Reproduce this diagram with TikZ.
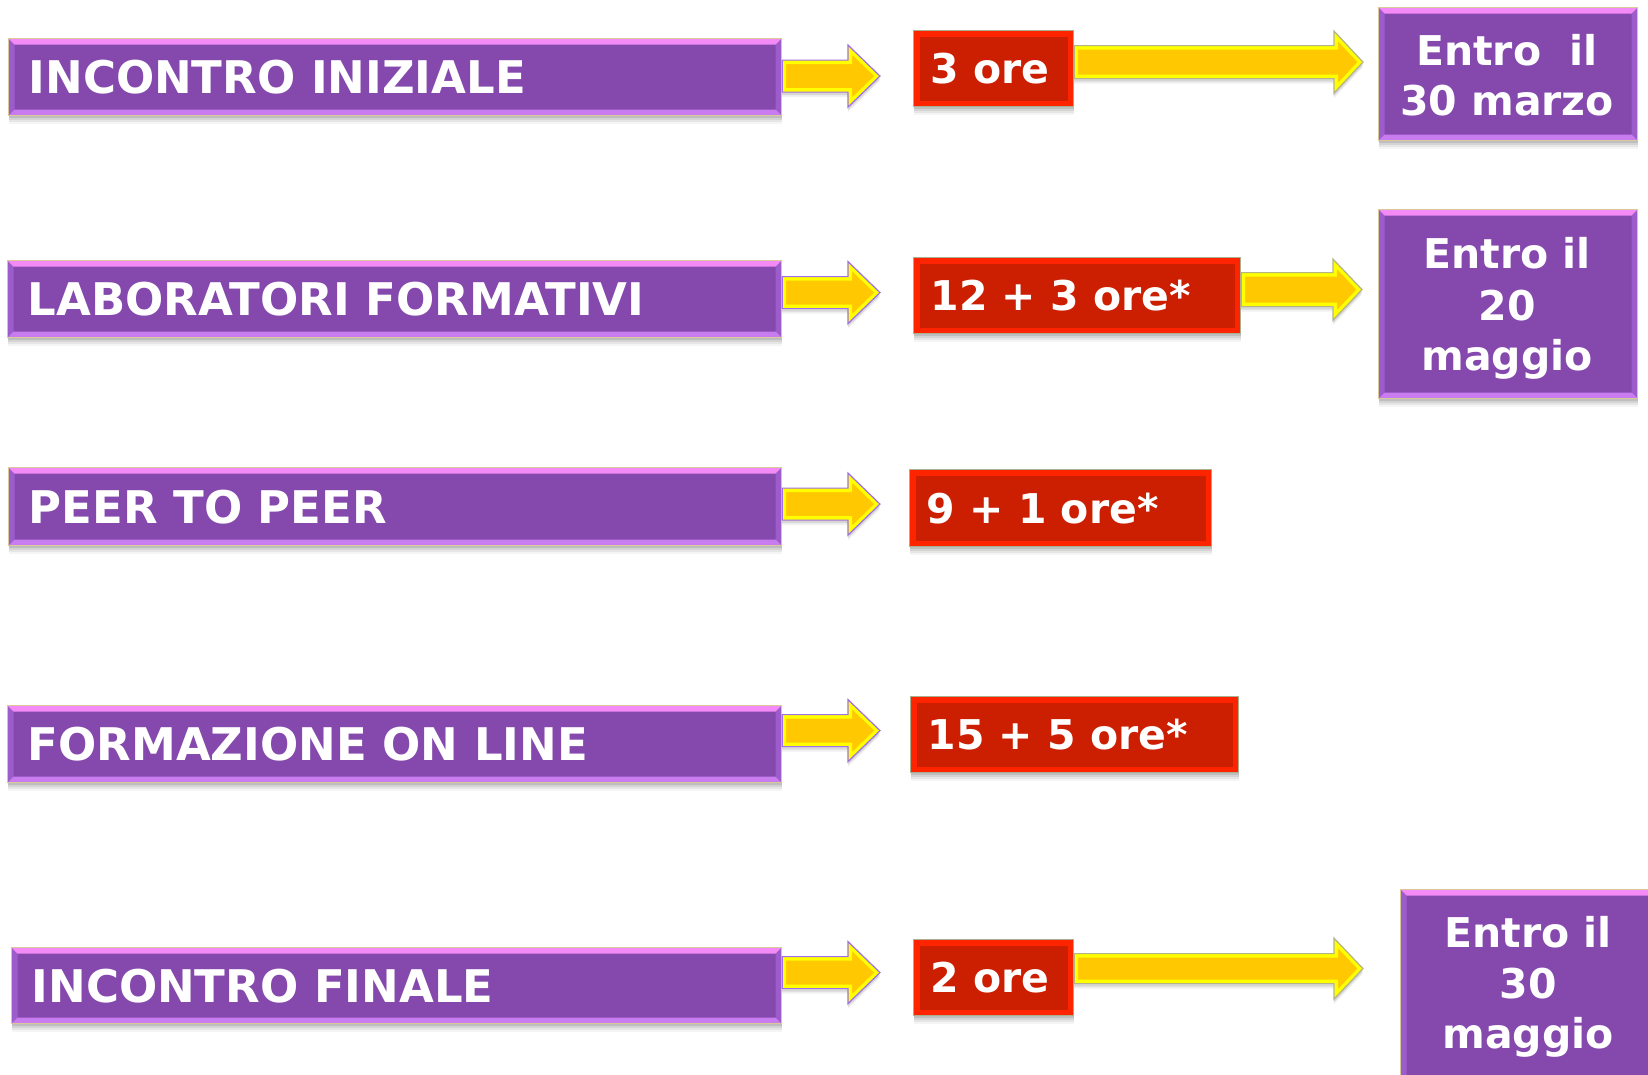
\documentclass[tikz,border=0pt]{standalone}
\usepackage{fontspec}
\setmainfont{DejaVu Sans}
\usetikzlibrary{shadows,calc}
\definecolor{pmain}{HTML}{8549AD}
\definecolor{ptop}{HTML}{F38AF5}
\definecolor{pbot}{HTML}{C87CF0}
\definecolor{pside}{HTML}{9C5CCB}
\definecolor{ptan}{HTML}{D8C89A}
\definecolor{rmain}{HTML}{CC1E00}
\definecolor{rstrip}{HTML}{FF2400}
\definecolor{rborder}{HTML}{A8B090}
\definecolor{arrorange}{HTML}{FFC800}
\definecolor{arryellow}{HTML}{FFFF00}
\definecolor{arrviolet}{HTML}{A070E8}
\definecolor{arrolive}{HTML}{B4B488}
\newcommand\lbx[2]{\makebox[#1][l]{#2}}
\tikzset{
  softshadow/.style={
    general shadow={shadow xshift=0pt, shadow yshift=-2pt, opacity=.10, fill=black},
    general shadow={shadow xshift=0pt, shadow yshift=-4pt, opacity=.08, fill=black},
    general shadow={shadow xshift=0pt, shadow yshift=-6pt, opacity=.06, fill=black},
    general shadow={shadow xshift=0pt, shadow yshift=-8pt, opacity=.04, fill=black}},
  pbevel/.style={path picture={
    \coordinate (NW) at (path picture bounding box.north west);
    \coordinate (NE) at (path picture bounding box.north east);
    \coordinate (SW) at (path picture bounding box.south west);
    \coordinate (SE) at (path picture bounding box.south east);
    \fill[pside] (NW) -- ([shift={(6pt,-6pt)}]NW) -- ([shift={(6pt,6pt)}]SW) -- (SW) -- cycle;
    \fill[pside] (NE) -- ([shift={(-6pt,-6pt)}]NE) -- ([shift={(-6pt,6pt)}]SE) -- (SE) -- cycle;
    \fill[ptop] (NW) -- (NE) -- ([shift={(-6pt,-6pt)}]NE) -- ([shift={(6pt,-6pt)}]NW) -- cycle;
    \fill[pbot] (SW) -- (SE) -- ([shift={(-6pt,6pt)}]SE) -- ([shift={(6pt,6pt)}]SW) -- cycle;
  }},
  rbevel/.style={path picture={
    \draw[rstrip, line width=12pt] (path picture bounding box.south west) rectangle (path picture bounding box.north east);
  }},
  pbox/.style={draw=ptan, line width=1.2pt, fill=pmain, softshadow, pbevel,
    inner xsep=20pt, inner ysep=0pt, text=white, anchor=north west,
    font=\fontsize{45}{54}\selectfont\bfseries, text height=32.8pt, text depth=0pt},
  rbox/.style={draw=rborder, line width=1.2pt, fill=rmain, softshadow, rbevel,
    inner xsep=17pt, inner ysep=0pt, text=white, anchor=north west,
    font=\fontsize{41}{50}\selectfont\bfseries, text height=30pt, text depth=0pt},
  qbox/.style={draw=ptan, line width=1.2pt, fill=pmain, softshadow, pbevel,
    inner sep=0pt, anchor=north west},
  qtext/.style={text=white, inner sep=0pt, anchor=base,
    font=\fontsize{41}{50}\selectfont\bfseries},
  arrbody/.style={fill=arrorange,
    general shadow={shadow xshift=0pt, shadow yshift=-3pt, opacity=.10, fill=black},
    general shadow={shadow xshift=0pt, shadow yshift=-5pt, opacity=.06, fill=black}},
  arrband/.style={draw=arryellow, line width=8pt},
}
% #1 start, #2 tip, #3 shaft half height, #4 head half height, #5 head length, #6 outline colour
\newcommand\blockarrow[6]{%
  \def\bapath{(\x1,\y1+#3) -- (\x2-#5,\y1+#3) -- (\x2-#5,\y1+#4) -- (\x2,\y1) -- (\x2-#5,\y1-#4) -- (\x2-#5,\y1-#3) -- (\x1,\y1-#3) -- cycle}%
  \fill[arrbody] let \p1=#1, \p2=#2 in \bapath;
  \begin{scope}
    \clip let \p1=#1, \p2=#2 in \bapath;
    \draw[arrband] let \p1=#1, \p2=#2 in \bapath;
  \end{scope}
  \draw[#6, line width=1.2pt, line join=miter] let \p1=#1, \p2=#2 in \bapath;
}
\begin{document}
\begin{tikzpicture}[x=1pt, y=-1pt]
\useasboundingbox (0,0) rectangle (1648,1074);
\fill[white] (0,0) rectangle (1648,1074);

% left boxes
\node[pbox, minimum height=77pt] (p1) at (8,38) {\lbx{733pt}{INCONTRO INIZIALE}};
\node[pbox, minimum height=77pt] (p2) at (7,260) {\lbx{734pt}{LABORATORI FORMATIVI}};
\node[pbox, minimum height=78pt] (p3) at (8,467) {\lbx{733pt}{PEER TO PEER}};
\node[pbox, minimum height=77pt] (p4) at (7,705) {\lbx{734pt}{FORMAZIONE ON LINE}};
\node[pbox, minimum height=76pt] (p5) at (11,947) {\lbx{730pt}{INCONTRO FINALE}};

% red boxes
\node[rbox, minimum height=76pt] (r1) at (913,30) {\lbx{126pt}{3 ore}};
\node[rbox, minimum height=76pt] (r2) at (913,257) {\lbx{293pt}{12 + 3 ore*}};
\node[rbox, minimum height=77pt] (r3) at (909,469) {\lbx{268pt}{9 + 1 ore*}};
\node[rbox, minimum height=76pt] (r4) at (910,696) {\lbx{294pt}{15 + 5 ore*}};
\node[rbox, minimum height=76pt] (r5) at (913,939) {\lbx{126pt}{2 ore}};

% right boxes
\node[qbox, minimum width=259pt, minimum height=133pt] (q1) at (1378,7) {};
\node[qbox, minimum width=259pt, minimum height=189pt] (q2) at (1378,209) {};
\node[qbox, minimum width=259pt, minimum height=200pt] (q5) at (1400,889) {};

\node[qtext] (q1a) at (1507,65) {Entro\ \ il};
\node[qtext] (q1b) at (1507,115) {30 marzo};
\node[qtext] (q2a) at (1507,268) {Entro il};
\node[qtext] (q2b) at (1507,320) {20};
\node[qtext] (q2c) at (1507,370) {maggio};
\node[qtext] (q5a) at (1528,947) {Entro il};
\node[qtext] (q5b) at (1528,998) {30};
\node[qtext] (q5c) at (1528,1048) {maggio};

% short arrows
\blockarrow{([yshift=1pt]p1.east)}{([xshift=-33pt]r1.west)}{16pt}{31pt}{32pt}{arrviolet}
\blockarrow{([yshift=6.5pt]p2.east)}{([xshift=-33pt]r2.west)}{16pt}{31pt}{32pt}{arrviolet}
\blockarrow{([yshift=2.5pt]p3.east)}{([xshift=-29pt]r3.west)}{16pt}{31pt}{32pt}{arrviolet}
\blockarrow{([yshift=13.5pt]p4.east)}{([xshift=-30pt]r4.west)}{16pt}{31pt}{32pt}{arrviolet}
\blockarrow{([yshift=13pt]p5.east)}{([xshift=-33pt]r5.west)}{16pt}{31pt}{32pt}{arrviolet}

% long arrows
\blockarrow{([yshift=6.5pt]r1.east)}{([xshift=-15pt]q1.west)}{16.5pt}{31pt}{29pt}{arrolive}
\blockarrow{([yshift=6pt]r2.east)}{([xshift=-16pt]q2.west)}{17pt}{30.5pt}{29pt}{arrolive}
\blockarrow{([yshift=9pt]r5.east)}{([xshift=-37pt]q5.west)}{15pt}{30.5pt}{29pt}{arrolive}
\end{tikzpicture}
\end{document}
